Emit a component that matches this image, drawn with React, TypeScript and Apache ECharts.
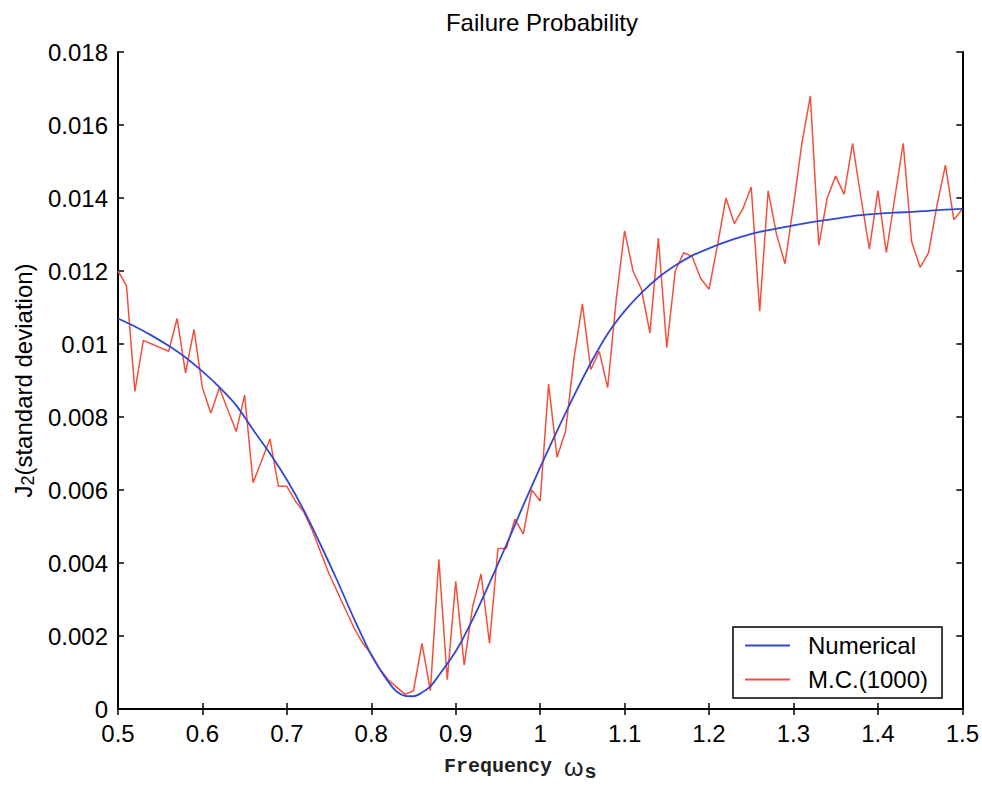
import React, { useEffect, useRef } from "react";
import * as echarts from "echarts";

const titleText = "Failure Probability";
const seriesNames = ["Numerical", "M.C.(1000)"];

// Numerical (smooth) curve
const numX = [
  0.5, 0.52, 0.54, 0.56, 0.58, 0.6, 0.62, 0.64, 0.66, 0.68, 0.7, 0.72, 0.74, 0.76, 0.78, 0.8,
  0.82, 0.83, 0.84, 0.85, 0.86, 0.87, 0.88, 0.9, 0.92, 0.94, 0.96, 0.98, 1.0, 1.02, 1.04, 1.06,
  1.08, 1.1, 1.12, 1.14, 1.16, 1.18, 1.2, 1.22, 1.24, 1.26, 1.28, 1.3, 1.32, 1.34, 1.36, 1.38,
  1.4, 1.42, 1.44, 1.46, 1.48, 1.5,
];
const numY = [
  0.0107, 0.01048, 0.01023, 0.00995, 0.00963, 0.00925, 0.00882, 0.00832, 0.00765, 0.007, 0.00628,
  0.00545, 0.0045, 0.0035, 0.00245, 0.00148, 0.00075, 0.00048, 0.00036, 0.00035, 0.00045,
  0.00062, 0.00092, 0.00158, 0.00245, 0.00345, 0.0045, 0.00558, 0.00662, 0.00762, 0.00858, 0.00948,
  0.01028, 0.0109, 0.0114, 0.01182, 0.01215, 0.01242, 0.01262, 0.0128, 0.01295, 0.01307,
  0.01316, 0.01325, 0.01333, 0.0134, 0.01347, 0.01353, 0.01357, 0.0136, 0.01362, 0.01365,
  0.01368, 0.0137,
];

// Monte Carlo samples, one every 0.01 from 0.50 to 1.50
const mcStart = 0.5;
const mcStep = 0.01;
const mcValues = [
  0.012, 0.0116, 0.0087, 0.0101, 0.01, 0.0099, 0.0098, 0.0107, 0.0092, 0.0104,
  0.0088, 0.0081, 0.0088, 0.0082, 0.0076, 0.0086, 0.0062, 0.0068, 0.0074, 0.0061,
  0.0061, 0.0057, 0.0054, 0.0049, 0.0043, 0.0037, 0.0032, 0.0027, 0.0022, 0.0018,
  0.0015, 0.0011, 0.0008, 0.0006, 0.0004, 0.0005, 0.0018, 0.0005, 0.0041, 0.0008,
  0.0035, 0.0012, 0.0028, 0.0037, 0.0018, 0.0044, 0.0044, 0.0052, 0.0048, 0.006,
  0.0057, 0.0089, 0.0069, 0.0076, 0.0096, 0.0111, 0.0093, 0.0098, 0.0088, 0.0112,
  0.0131, 0.012, 0.0115, 0.0103, 0.0129, 0.0099, 0.012, 0.0125, 0.0124, 0.0118,
  0.0115, 0.0127, 0.014, 0.0133, 0.0137, 0.0143, 0.0109, 0.0142, 0.013, 0.0122,
  0.0138, 0.0155, 0.0168, 0.0127, 0.014, 0.0146, 0.0141, 0.0155, 0.014, 0.0126,
  0.0142, 0.0125, 0.014, 0.0155, 0.0128, 0.0121, 0.0125, 0.0138, 0.0149, 0.0134,
  0.0137,
];

const X_MIN = 0.5, X_MAX = 1.5, X_INT = 0.1;
const Y_MIN = 0, Y_MAX = 0.018, Y_INT = 0.002;

const SANS = "'Liberation Sans', Arial, sans-serif";
const MONO = "'Liberation Mono', 'Courier New', monospace";
const BLUE = "#3248d4";
const RED = "#f2503c";

export default function App() {
  const ref = useRef<HTMLDivElement>(null);
  useEffect(() => {
    document.body.style.margin = "0";
    if (!ref.current) return;
    const chart = echarts.init(ref.current, undefined, { renderer: "svg" });
    const numData = numX.map((x, i) => [x, numY[i]]);
    const mcData = mcValues.map((v, i) => [mcStart + i * mcStep, v]);
    const axisLine = { show: true, lineStyle: { color: "#000", width: 2 } };
    const tick = { show: true, inside: true, length: 6, lineStyle: { color: "#000", width: 1.5 } };
    chart.setOption({
      animation: false,
      backgroundColor: "#fff",
      title: {
        text: titleText,
        left: 537,
        top: 5,
        textAlign: "center",
        textStyle: { fontFamily: SANS, fontSize: 24, fontWeight: "normal", color: "#000" },
      },
      grid: { left: 118, right: 17, top: 52, bottom: 81, containLabel: false },
      legend: {
        data: [
          { name: seriesNames[0], icon: "rect", itemStyle: { color: BLUE } },
          { name: seriesNames[1], icon: "rect", itemStyle: { color: RED } },
        ],
        orient: "vertical",
        left: 733,
        top: 627,
        padding: [5, 14, 5, 12],
        itemGap: 7,
        itemWidth: 45,
        itemHeight: 2,
        backgroundColor: "#fff",
        borderColor: "#000",
        borderWidth: 1.5,
        borderRadius: 0,
        textStyle: {
          fontFamily: SANS,
          fontSize: 24,
          color: "#000",
          lineHeight: 27,
          padding: [0, 0, 0, 13],
        },
      },
      xAxis: [
        {
          type: "value",
          min: X_MIN,
          max: X_MAX,
          interval: X_INT,
          position: "bottom",
          axisLine,
          axisTick: tick,
          splitLine: { show: false },
          axisLabel: {
            margin: 12,
            fontFamily: SANS,
            fontSize: 24,
            color: "#000",
            formatter: (v: number) => String(parseFloat(v.toFixed(1))),
          },
        },
        {
          type: "value",
          min: X_MIN,
          max: X_MAX,
          interval: X_INT,
          position: "top",
          axisLine,
          axisTick: tick,
          splitLine: { show: false },
          axisLabel: { show: false },
        },
      ],
      yAxis: [
        {
          type: "value",
          min: Y_MIN,
          max: Y_MAX,
          interval: Y_INT,
          position: "left",
          axisLine,
          axisTick: tick,
          splitLine: { show: false },
          axisLabel: {
            margin: 10,
            fontFamily: SANS,
            fontSize: 24,
            color: "#000",
            formatter: (v: number) => String(parseFloat(v.toFixed(3))),
          },
          name: "{a|J}{b|2}{a|(standard deviation)}",
          nameLocation: "middle",
          nameGap: 80,
          nameRotate: 90,
          nameTextStyle: {
            rich: {
              a: { fontFamily: SANS, fontSize: 24, color: "#000" },
              b: { fontFamily: SANS, fontSize: 18, color: "#000", padding: [10, 0, 0, 0] },
            },
          },
        },
        {
          type: "value",
          min: Y_MIN,
          max: Y_MAX,
          interval: Y_INT,
          position: "right",
          axisLine,
          axisTick: tick,
          splitLine: { show: false },
          axisLabel: { show: false },
        },
      ],
      graphic: [
        {
          type: "text",
          left: 444,
          top: 754,
          style: {
            text: "{a|Frequency }{w|ω}{b|s}",
            rich: {
              a: { fontFamily: MONO, fontSize: 20, fontWeight: "bold", fill: "#222" },
              w: { fontFamily: SANS, fontSize: 25, fill: "#222" },
              b: { fontFamily: MONO, fontSize: 20, fontWeight: "bold", fill: "#222", padding: [12, 0, 0, 1] },
            },
          },
        },
      ],
      series: [
        {
          name: seriesNames[1],
          type: "line",
          data: mcData,
          symbol: "none",
          lineStyle: { color: RED, width: 1.5 },
          itemStyle: { color: RED },
          z: 2,
        },
        {
          name: seriesNames[0],
          type: "line",
          data: numData,
          smooth: 0.3,
          symbol: "none",
          lineStyle: { color: BLUE, width: 1.8 },
          itemStyle: { color: BLUE },
          z: 3,
        },
      ],
    });
    return () => chart.dispose();
  }, []);
  return <div ref={ref} style={{ width: 982, height: 790 }} />;
}
